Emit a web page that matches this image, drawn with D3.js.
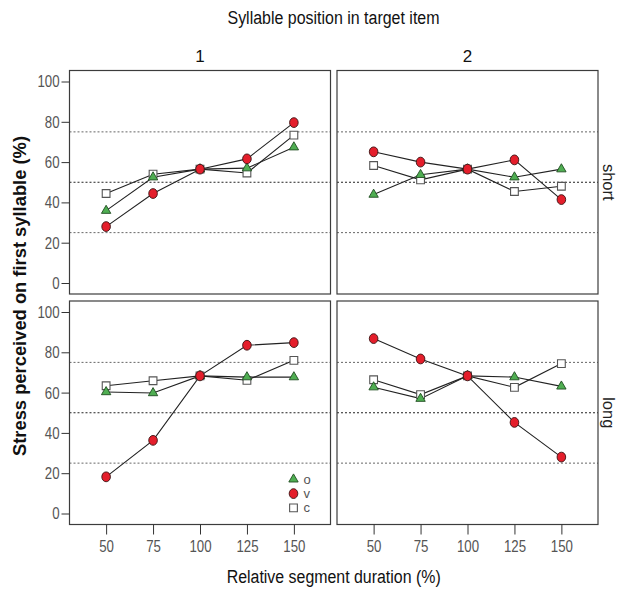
<!DOCTYPE html>
<html>
<head>
<meta charset="utf-8">
<script src="https://cdn.jsdelivr.net/npm/d3@7"></script>
<style>
  html, body { margin: 0; padding: 0; background: #fff; }
  svg { display: block; font-family: "Liberation Sans", Arial, sans-serif; }
</style>
</head>
<body>
<svg id="chart" width="622" height="589"></svg>
<script>
// Categories
const durations = ["50", "75", "100", "125", "150"];
const positions = ["1", "2"];
const lengths = ["short", "long"];
const seriesNames = ["o", "v", "c"];
const yTicks = [0, 20, 40, 60, 80, 100];
const refLines = [25, 50, 75];

// Stress perceived on first syllable (%), by duration step
const shortPos1_o = [35.9, 52.5, 56.5, 57.0, 67.4];
const shortPos1_v = [28.0, 44.4, 56.5, 61.6, 79.6];
const shortPos1_c = [44.4, 54.0, 56.5, 54.6, 73.4];
const shortPos2_o = [43.9, 53.7, 56.5, 52.5, 56.5];
const shortPos2_v = [65.1, 60.0, 56.5, 61.1, 41.4];
const shortPos2_c = [58.3, 51.2, 56.5, 45.4, 48.0];
const longPos1_o = [60.3, 59.8, 68.3, 67.7, 67.7];
const longPos1_v = [18.2, 36.3, 68.3, 83.5, 84.8];
const longPos1_c = [63.4, 65.9, 68.3, 66.1, 76.0];
const longPos2_o = [62.7, 57.0, 68.3, 67.7, 63.1];
const longPos2_v = [86.8, 76.7, 68.3, 45.2, 28.0];
const longPos2_c = [66.4, 59.0, 68.3, 62.6, 74.4];

const panelValues = {
  "short|1": { o: shortPos1_o, v: shortPos1_v, c: shortPos1_c },
  "short|2": { o: shortPos2_o, v: shortPos2_v, c: shortPos2_c },
  "long|1":  { o: longPos1_o,  v: longPos1_v,  c: longPos1_c },
  "long|2":  { o: longPos2_o,  v: longPos2_v,  c: longPos2_c }
};

// Layout
const svg = d3.select("#chart");
const colX = [69.5, 337];
const rowY = [70.5, 301];
const panelW = 261;
const panelH = 223.5;
const tickSquish = 0.78;

const x = d3.scalePoint().domain(durations).range([0, panelW]).padding(0.78);
const y = d3.scaleLinear().domain([0, 100]).range([panelH - 11, 11]);

const markerStyle = {
  o: { fill: "#4fae52", stroke: "#1f4d20" },
  v: { fill: "#e41e2b", stroke: "#3b1212" },
  c: { fill: "#ffffff", stroke: "#555555" }
};

function drawMarker(g, name, cx, cy) {
  const st = markerStyle[name];
  if (name === "v") {
    g.append("ellipse").attr("cx", cx).attr("cy", cy)
      .attr("rx", 4.3).attr("ry", 4.9)
      .attr("fill", st.fill).attr("stroke", st.stroke).attr("stroke-width", 0.9);
  } else if (name === "o") {
    g.append("path").attr("d", d3.symbol().type(d3.symbolTriangle).size(38)())
      .attr("transform", `translate(${cx},${cy})`)
      .attr("fill", st.fill).attr("stroke", st.stroke).attr("stroke-width", 0.9);
  } else {
    g.append("path").attr("d", d3.symbol().type(d3.symbolSquare).size(60)())
      .attr("transform", `translate(${cx},${cy})`)
      .attr("fill", st.fill).attr("stroke", st.stroke).attr("stroke-width", 1.1);
  }
}

const line = d3.line()
  .x((d, i) => x(durations[i]))
  .y(d => y(d));

lengths.forEach((len, r) => {
  positions.forEach((pos, c) => {
    const g = svg.append("g").attr("transform", `translate(${colX[c]},${rowY[r]})`);
    g.append("rect").attr("width", panelW).attr("height", panelH).attr("fill", "#fff");

    // Reference lines at 25 / 50 / 75 %
    g.selectAll("line.ref").data(refLines).join("line")
      .attr("class", "ref")
      .attr("x1", 0).attr("x2", panelW)
      .attr("y1", d => y(d)).attr("y2", d => y(d))
      .attr("stroke", d => d === 50 ? "#222" : "#666")
      .attr("stroke-width", 1)
      .attr("stroke-dasharray", "2,2");

    const vals = panelValues[`${len}|${pos}`];
    // Connecting lines first, then markers on top
    ["c", "o", "v"].forEach(s => {
      g.append("path").datum(vals[s]).attr("d", line)
        .attr("fill", "none").attr("stroke", "#222").attr("stroke-width", 1.1);
    });
    ["c", "o", "v"].forEach(s => {
      vals[s].forEach((v, i) => drawMarker(g, s, x(durations[i]), y(v)));
    });

    g.append("rect").attr("width", panelW).attr("height", panelH)
      .attr("fill", "none").attr("stroke", "#3c3c3c").attr("stroke-width", 1.2);

    // Y axis on left column
    if (c === 0) {
      const ya = g.append("g").call(d3.axisLeft(y).tickValues(yTicks).tickSize(8).tickPadding(2));
      ya.select(".domain").remove();
      ya.selectAll(".tick line").attr("stroke", "#333");
      ya.selectAll(".tick text")
        .attr("font-size", 17).attr("fill", "#555")
        .attr("font-family", "Liberation Sans, Arial, sans-serif")
        .attr("x", -10 / tickSquish)
        .attr("transform", `scale(${tickSquish},1)`);
    }
    // X axis on bottom row
    if (r === 1) {
      const xa = g.append("g").attr("transform", `translate(0,${panelH})`)
        .call(d3.axisBottom(x).tickSize(10).tickPadding(5));
      xa.select(".domain").remove();
      xa.selectAll(".tick line").attr("stroke", "#333");
      xa.selectAll(".tick text")
        .attr("font-size", 17).attr("fill", "#555")
        .attr("font-family", "Liberation Sans, Arial, sans-serif")
        .attr("transform", `scale(${tickSquish},1)`);
    }

    // Legend in the lower-left panel
    if (r === 1 && c === 0) {
      const lg = g.append("g").attr("transform", "translate(224,178.3)");
      seriesNames.forEach((s, i) => {
        drawMarker(lg, s, 0, i * 14.3);
        lg.append("text").attr("x", 10).attr("y", i * 14.3).attr("dy", "0.35em")
          .attr("font-size", 13).attr("fill", "#555").text(s);
      });
    }
  });
});

// Column strip labels
positions.forEach((pos, c) => {
  svg.append("text").attr("x", colX[c] + panelW / 2).attr("y", 61.5)
    .attr("text-anchor", "middle").attr("font-size", 17).attr("fill", "#111").text(pos);
});

// Row strip labels
lengths.forEach((len, r) => {
  svg.append("text")
    .attr("transform", `translate(603,${rowY[r] + panelH / 2}) rotate(90)`)
    .attr("text-anchor", "middle").attr("font-size", 16.5).attr("fill", "#222").text(len);
});

// Titles
svg.append("text").attr("x", 333.5).attr("y", 24)
  .attr("text-anchor", "middle").attr("font-size", 18).attr("fill", "#111")
  .attr("textLength", 212).attr("lengthAdjust", "spacingAndGlyphs")
  .text("Syllable position in target item");

svg.append("text").attr("x", 333.7).attr("y", 583)
  .attr("text-anchor", "middle").attr("font-size", 18).attr("fill", "#111")
  .attr("textLength", 214).attr("lengthAdjust", "spacingAndGlyphs")
  .text("Relative segment duration (%)");

svg.append("text")
  .attr("transform", "translate(26,296) rotate(-90)")
  .attr("text-anchor", "middle").attr("font-size", 18).attr("font-weight", "bold").attr("fill", "#111")
  .attr("textLength", 320).attr("lengthAdjust", "spacingAndGlyphs")
  .text("Stress perceived on first syllable (%)");
</script>
</body>
</html>
